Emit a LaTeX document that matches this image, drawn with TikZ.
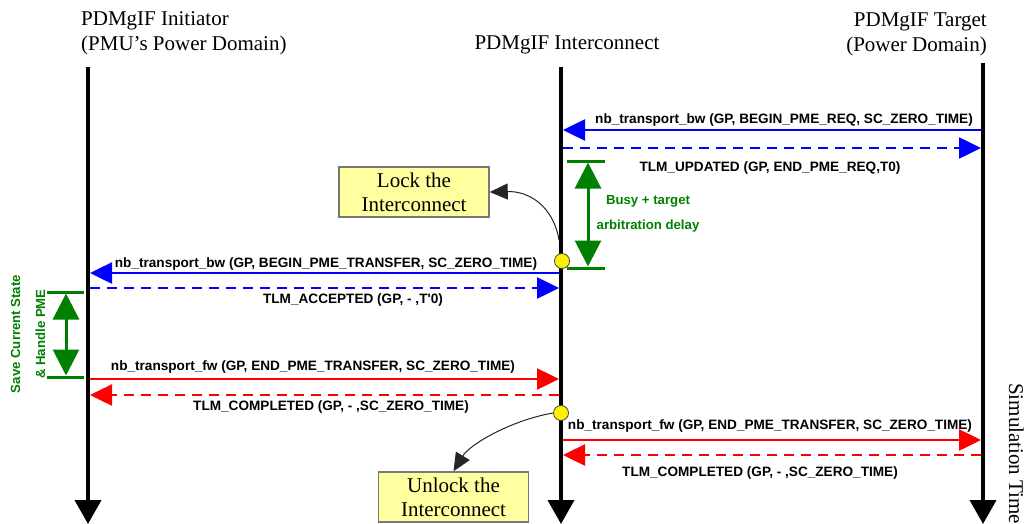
\documentclass[tikz,border=0pt]{standalone}
\usepackage{fontspec}
\setmainfont{Liberation Serif}
\setsansfont{Liberation Sans}
\usetikzlibrary{arrows.meta}
\definecolor{msgblue}{RGB}{0,0,255}
\definecolor{msgred}{RGB}{255,0,0}
\definecolor{dgreen}{RGB}{0,128,0}
\definecolor{boxyellow}{RGB}{255,255,160}
\definecolor{boxborder}{RGB}{120,120,120}
\begin{document}
\begin{tikzpicture}[x=1pt,y=-1pt,
  life/.style={line width=4pt,-{Triangle[length=24pt,width=26pt]}},
  msg/.style={line width=2.5pt,-{Triangle[length=22pt,width=21pt]}},
  ret/.style={msg,dash pattern=on 10pt off 7pt},
  lbl/.style={font=\sffamily\bfseries\fontsize{13.6}{15}\selectfont,inner sep=0pt,anchor=base},
  ttl/.style={font=\fontsize{21}{25}\selectfont,inner sep=0pt},
  dly/.style={dgreen,line width=3pt,{Triangle[length=26pt,width=26pt]}-{Triangle[length=26pt,width=26pt]}},
  dbar/.style={dgreen,line width=3pt},
  glbl/.style={text=dgreen,font=\sffamily\bfseries\fontsize{13.2}{25}\selectfont,align=center,inner sep=0pt},
  actbox/.style={draw=boxborder,fill=boxyellow,line width=1.5pt,minimum width=150pt,minimum height=50pt,inner sep=0pt,font=\fontsize{21}{24}\selectfont,align=center},
  dot/.style={circle,draw=black!75,fill=yellow,minimum size=15pt,inner sep=0pt,line width=0.8pt},
  bendarrow/.style={black!85,line width=1pt,-{Triangle[length=18pt,width=16pt]}}
]
\useasboundingbox (0,0) rectangle (1024,524);

% titles
\node[ttl,align=left,anchor=north west] (tinit) at (81,11) {PDMgIF Initiator\\(PMU’s Power Domain)};
\node[ttl,anchor=base] (tic) at (567,50) {PDMgIF Interconnect};
\node[ttl,align=right,anchor=north east] (ttgt) at (987,13) {PDMgIF Target\\(Power Domain)};
\node[ttl,rotate=-90,anchor=base west] (simt) at (1009,383) {Simulation Time};

% lifelines
\coordinate (iT) at (88,67);  \coordinate (iB) at (88,524);
\coordinate (cT) at (561,67); \coordinate (cB) at (561,524);
\coordinate (tT) at (983,63); \coordinate (tB) at (983,524);
\draw[life] (iT) -- (iB);
\draw[life] (cT) -- (cB);
\draw[life] (tT) -- (tB);

% message end points
\coordinate (m1a) at (981,130); \coordinate (m1b) at (563,130);
\coordinate (m2a) at (563,148); \coordinate (m2b) at (981,148);
\coordinate (m3a) at (559,273); \coordinate (m3b) at (90,273);
\coordinate (m4a) at (90,288);  \coordinate (m4b) at (559,288);
\coordinate (m5a) at (90,379);  \coordinate (m5b) at (559,379);
\coordinate (m6a) at (559,395); \coordinate (m6b) at (90,395);
\coordinate (m7a) at (563,440); \coordinate (m7b) at (981,440);
\coordinate (m8a) at (981,455); \coordinate (m8b) at (563,455);

\draw[msg,msgblue] (m1a) -- (m1b);
\draw[ret,msgblue] (m2a) -- (m2b);
\draw[msg,msgblue] (m3a) -- (m3b);
\draw[ret,msgblue] (m4a) -- (m4b);
\draw[msg,msgred] (m5a) -- (m5b);
\draw[ret,msgred] (m6a) -- (m6b);
\draw[msg,msgred] (m7a) -- (m7b);
\draw[ret,msgred] (m8a) -- (m8b);

% message labels
\node[lbl] (l1) at (784,124) {nb\_transport\_bw (GP, BEGIN\_PME\_REQ, SC\_ZERO\_TIME)};
\node[lbl] (l2) at (770,171) {TLM\_UPDATED (GP, END\_PME\_REQ,T0)};
\node[lbl] (l3) at (326,267) {nb\_transport\_bw (GP, BEGIN\_PME\_TRANSFER, SC\_ZERO\_TIME)};
\node[lbl] (l4) at (353,303) {TLM\_ACCEPTED (GP, - ,T\textquotesingle0)};
\node[lbl] (l5) at (313,370) {nb\_transport\_fw (GP, END\_PME\_TRANSFER, SC\_ZERO\_TIME)};
\node[lbl] (l6) at (331,410) {TLM\_COMPLETED (GP, - ,SC\_ZERO\_TIME)};
\node[lbl] (l7) at (770,429) {nb\_transport\_fw (GP, END\_PME\_TRANSFER, SC\_ZERO\_TIME)};
\node[lbl] (l8) at (760,476) {TLM\_COMPLETED (GP, - ,SC\_ZERO\_TIME)};

% delay on interconnect
\coordinate (rb1a) at (567,161); \coordinate (rb1b) at (605,161);
\coordinate (rb2a) at (567,268); \coordinate (rb2b) at (605,268);
\coordinate (rd1) at (588,162.5); \coordinate (rd2) at (588,266.5);
\draw[dbar] (rb1a) -- (rb1b);
\draw[dbar] (rb2a) -- (rb2b);
\draw[dly] (rd1) -- (rd2);
\node[glbl] (busy) at (648,214) {Busy + target\\arbitration delay};

% delay on initiator
\coordinate (lb1a) at (47,292); \coordinate (lb1b) at (84,292);
\coordinate (lb2a) at (47,377); \coordinate (lb2b) at (84,377);
\coordinate (ld1) at (66,293.5); \coordinate (ld2) at (66,375.5);
\draw[dbar] (lb1a) -- (lb1b);
\draw[dbar] (lb2a) -- (lb2b);
\draw[dly] (ld1) -- (ld2);
\node[glbl,rotate=90] (save) at (28,334) {Save Current State\\\& Handle PME};

% lock / unlock
\node[actbox] (lock) at (414,192) {Lock the\\Interconnect};
\node[actbox] (unlock) at (453.5,497) {Unlock the\\Interconnect};
\node[dot] (c1) at (562,261) {};
\node[dot] (c2) at (561,413) {};
\coordinate (ls) at (559,240);
\draw[bendarrow] (ls) .. controls (553,205) and (528,191) .. (lock.east);
\draw[bendarrow] (c2.west) .. controls (512,420) and (470,444) .. (unlock.north);
\end{tikzpicture}
\end{document}
